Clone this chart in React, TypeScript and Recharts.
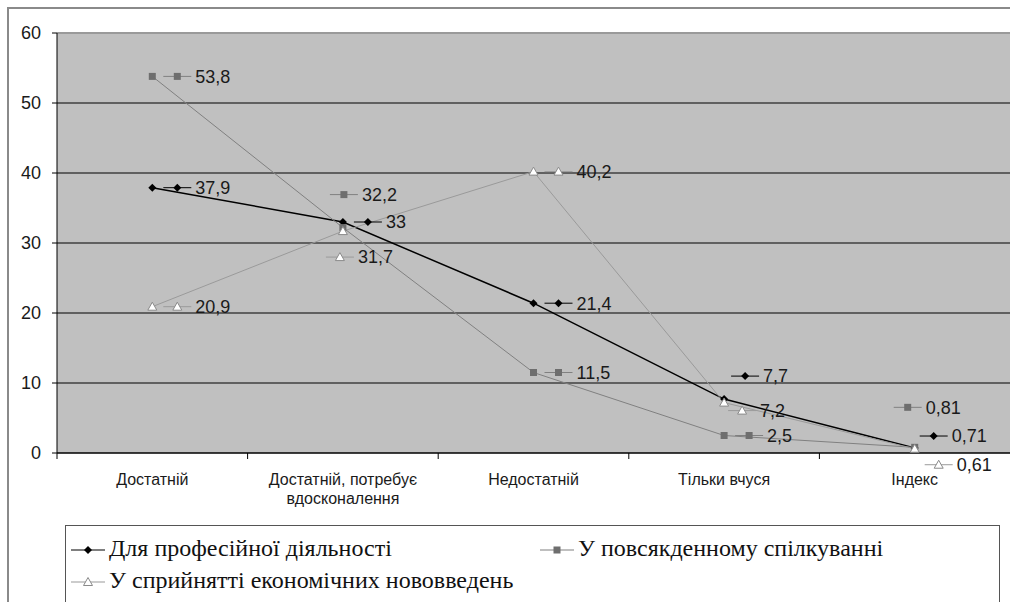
import React from 'react';
import { LineChart, Line, XAxis, YAxis, CartesianGrid, ReferenceLine } from 'recharts';

// ── дані ─────────────────────────────────────────────
const CATEGORIES = ['Достатній', 'Достатній, потребує вдосконалення', 'Недостатній', 'Тільки вчуся', 'Індекс'];
const PROFESSIONAL = [37.9, 33, 21.4, 7.7, 0.71];
const EVERYDAY = [53.8, 32.2, 11.5, 2.5, 0.81];
const INNOVATIONS = [20.9, 31.7, 40.2, 7.2, 0.61];
const Y_TICKS = [0, 10, 20, 30, 40, 50, 60];

const SERIES_NAMES = {
  prof: 'Для професійної діяльності',
  every: 'У повсякденному спілкуванні',
  innov: 'У сприйнятті економічних нововведень',
};

// зсув підписів даних відносно точки
const LABEL_OFFSETS: Record<string, [number, number][]> = {
  prof: [[25, 0], [25, 0], [25, 0], [21, -23], [19, -12]],
  every: [[25, 0], [1, -33], [25, 0], [25, 0], [-7, -40]],
  innov: [[25, 0], [-3, 26], [25, 0], [18, 8], [24, 16]],
};

const data = CATEGORIES.map((name, i) => ({
  name,
  prof: PROFESSIONAL[i],
  every: EVERYDAY[i],
  innov: INNOVATIONS[i],
}));

// ── розміри ──────────────────────────────────────────
const W = 1010;
const H = 602;
const PLOT_LEFT = 57;
const PLOT_TOP = 33;
const PLOT_BOTTOM = 453;
const HALF_BAND = (W - PLOT_LEFT) / CATEGORIES.length / 2;
const SANS = '"Liberation Sans", Arial, sans-serif';
const SERIF = '"Liberation Serif", "Times New Roman", "DejaVu Serif", serif';

const COLORS = { prof: '#000000', every: '#808080', innov: '#9a9a9a' };

type Kind = 'diamond' | 'square' | 'triangle';

function Marker({ kind, cx, cy }: { kind: Kind; cx: number; cy: number }) {
  if (kind === 'diamond')
    return <polygon points={`${cx},${cy - 4} ${cx + 4},${cy} ${cx},${cy + 4} ${cx - 4},${cy}`} fill="#000" />;
  if (kind === 'square')
    return <rect x={cx - 3.5} y={cy - 3.5} width={7} height={7} fill="#6e6e6e" />;
  return (
    <polygon
      points={`${cx},${cy - 4.5} ${cx + 4.5},${cy + 3.5} ${cx - 4.5},${cy + 3.5}`}
      fill="#fff"
      stroke="#8a8a8a"
      strokeWidth={1}
    />
  );
}

const fmt = (v: number) => String(v).replace('.', ',');

function makeDot(kind: Kind) {
  return (p: any) => <Marker key={`dot-${kind}-${p.index}`} kind={kind} cx={p.cx} cy={p.cy} />;
}

function makeLabel(kind: Kind, key: string) {
  return (p: any) => {
    const { x, y, value, index } = p;
    const [dx, dy] = LABEL_OFFSETS[key][index];
    const cx = x + dx;
    const cy = y + dy;
    return (
      <g key={`lbl-${key}-${index}`}>
        <line x1={cx - 14} x2={cx + 14} y1={cy} y2={cy} stroke={COLORS[key as keyof typeof COLORS]} strokeWidth={1} />
        <Marker kind={kind} cx={cx} cy={cy} />
        <text x={cx + 18} y={cy} dy="0.35em" fontSize={18} fontFamily={SANS} fill="#1a1a1a">
          {fmt(value)}
        </text>
      </g>
    );
  };
}

function CategoryTick({ x, payload, index }: any) {
  const lines = String(payload.value).replace('потребує ', 'потребує\n').split('\n');
  return (
    <g>
      <line x1={x - HALF_BAND} x2={x - HALF_BAND} y1={PLOT_BOTTOM} y2={PLOT_BOTTOM + 6} stroke="#000" />
      {lines.map((l, i) => (
        <text
          key={i}
          x={x}
          y={PLOT_BOTTOM + 26 + i * 19}
          dy="0.35em"
          textAnchor="middle"
          fontSize={16}
          fontFamily={SANS}
          fill="#1a1a1a"
        >
          {l}
        </text>
      ))}
    </g>
  );
}

function LegendKey({ kind, color }: { kind: Kind; color: string }) {
  return (
    <svg width={36} height={12} style={{ marginRight: 3, verticalAlign: 'middle' }}>
      <line x1={1} x2={35} y1={6} y2={6} stroke={color} strokeWidth={1.2} />
      <Marker kind={kind} cx={18} cy={6} />
    </svg>
  );
}

export default function App() {
  return (
    <div style={{ position: 'absolute', left: 0, top: 0, width: W, height: H, background: '#fff', overflow: 'hidden' }}>
      {/* рамка області діаграми */}
      <div
        style={{
          position: 'absolute', left: 7, top: 7, width: W, height: H,
          borderLeft: '2px solid #8a8a8a', borderTop: '2px solid #8a8a8a',
        }}
      />
      <div style={{ position: 'absolute', left: 0, top: 0 }}>
        <LineChart width={W} height={H} data={data} margin={{ top: PLOT_TOP, right: 0, bottom: H - PLOT_BOTTOM - 30, left: 7 }}>
          <CartesianGrid vertical={false} stroke="#000" fill="#c0c0c0" fillOpacity={1} />
          <XAxis
            dataKey="name"
            height={30}
            padding={{ left: HALF_BAND, right: HALF_BAND }}
            axisLine={{ stroke: '#000' }}
            tickLine={false}
            interval={0}
            tick={<CategoryTick />}
          />
          <YAxis
            width={50}
            domain={[0, 60]}
            ticks={Y_TICKS}
            interval={0}
            axisLine={{ stroke: '#000' }}
            tickLine={{ stroke: '#000' }}
            tickSize={5}
            tickMargin={11}
            tick={{ fontSize: 18, fontFamily: SANS, fill: '#1a1a1a' }}
          />
          <ReferenceLine y={60} stroke="#9a9a9a" strokeWidth={2} />
          <Line
            dataKey="prof"
            type="linear"
            stroke={COLORS.prof}
            strokeWidth={1.5}
            dot={makeDot('diamond')}
            activeDot={false}
            label={makeLabel('diamond', 'prof')}
            isAnimationActive={false}
          />
          <Line
            dataKey="every"
            type="linear"
            stroke={COLORS.every}
            strokeWidth={1}
            dot={makeDot('square')}
            activeDot={false}
            label={makeLabel('square', 'every')}
            isAnimationActive={false}
          />
          <Line
            dataKey="innov"
            type="linear"
            stroke={COLORS.innov}
            strokeWidth={1}
            dot={makeDot('triangle')}
            activeDot={false}
            label={makeLabel('triangle', 'innov')}
            isAnimationActive={false}
          />
        </LineChart>
      </div>
      {/* легенда */}
      <div
        style={{
          position: 'absolute', left: 65, top: 525, width: 935, height: 80,
          border: '1px solid #555', background: '#fff', fontFamily: SERIF, fontSize: 24, color: '#111',
          boxSizing: 'border-box', lineHeight: '28px',
        }}
      >
        <div style={{ position: 'absolute', left: 4, top: 8, whiteSpace: 'nowrap' }}>
          <LegendKey kind="diamond" color={COLORS.prof} />
          {SERIES_NAMES.prof}
        </div>
        <div style={{ position: 'absolute', left: 473, top: 8, whiteSpace: 'nowrap' }}>
          <LegendKey kind="square" color={COLORS.every} />
          {SERIES_NAMES.every}
        </div>
        <div style={{ position: 'absolute', left: 4, top: 40, whiteSpace: 'nowrap' }}>
          <LegendKey kind="triangle" color={COLORS.innov} />
          {SERIES_NAMES.innov}
        </div>
      </div>
    </div>
  );
}
